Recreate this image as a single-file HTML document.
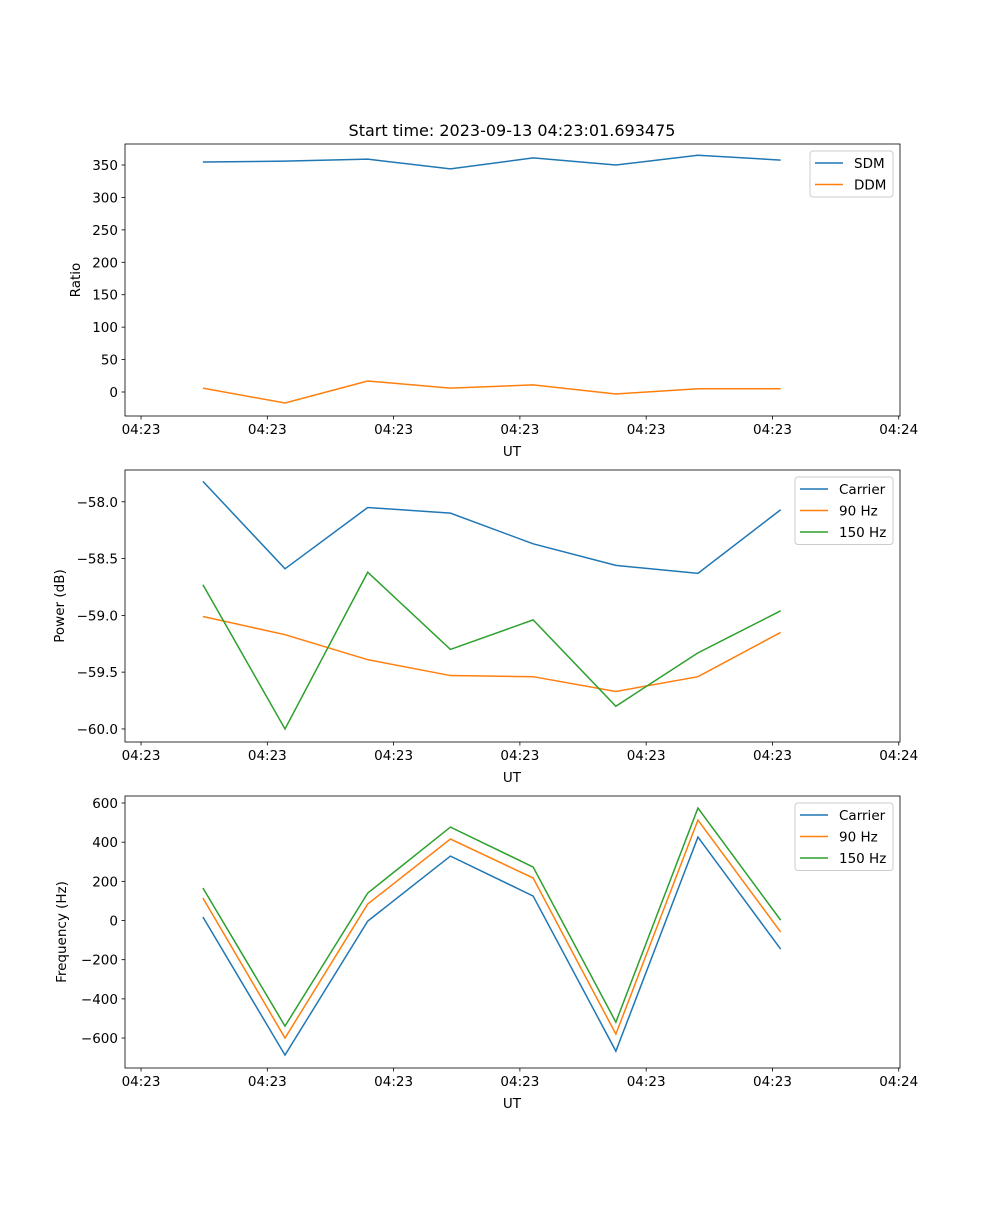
<!DOCTYPE html>
<html><head><meta charset="utf-8"><style>
body{margin:0;background:#fff}
svg text{font-family:"DejaVu Sans","Liberation Sans",sans-serif;fill:#000}
</style></head><body>
<svg id="fig" width="1000" height="1200" xmlns="http://www.w3.org/2000/svg">
<rect width="1000" height="1200" fill="#fff"/>
<text x="512" y="136" font-size="16" text-anchor="middle">Start time: 2023-09-13 04:23:01.693475</text>
</svg>
<script>
const xTimes=[4.9,11.4,17.95,24.5,31.05,37.6,44.1,50.65];
const xTicks=[0,10,20,30,40,50,60];
const xTickLabels=["04:23","04:23","04:23","04:23","04:23","04:23","04:24"];
const sdm=[354.6,356,359,344,361,350,365,357.6];
const ddm=[6,-17,17,6,11,-3,5,5];
const pCarrier=[-57.82,-58.59,-58.05,-58.10,-58.37,-58.56,-58.63,-58.07];
const p90=[-59.01,-59.17,-59.39,-59.53,-59.54,-59.67,-59.54,-59.15];
const p150=[-58.73,-60.0,-58.62,-59.30,-59.04,-59.80,-59.33,-58.96];
const fCarrier=[18,-687,-3,329,125,-667,426,-146];
const f90=[115,-600,84,416,217,-580,513,-59];
const f150=[166,-539,140,477,273,-519,574,2];
const ticks1=[0,50,100,150,200,250,300,350];
const ticks2=[-58.0,-58.5,-59.0,-59.5,-60.0];
const ticks3=[-600,-400,-200,0,200,400,600];
const C=["#1f77b4","#ff7f0e","#2ca02c"];
const svg=document.getElementById('fig');
const NS="http://www.w3.org/2000/svg";
function mk(t,a,p){const e=document.createElementNS(NS,t);for(const k in a)e.setAttribute(k,a[k]);(p||svg).appendChild(e);return e;}
const L=125,R=900,xmin=-1.27,xmax=60.1;
const xs=v=>L+(v-xmin)/(xmax-xmin)*(R-L);
function panel(id,top,bot,ymin,ymax,yt,fmt,ylabel,ylx,series,names,lg){
  const g=mk('g',{});
  
  
  const ys=v=>bot-(v-ymin)/(ymax-ymin)*(bot-top);
  series.forEach((s,i)=>{
    const p=mk('polyline',{points:s.map((v,j)=>xs(xTimes[j])+','+ys(v)).join(' '),fill:'none',stroke:C[i],'stroke-width':1.5},g);
    
    
  });
  mk('rect',{x:L,y:top,width:R-L,height:bot-top,fill:'none',stroke:'#000','stroke-width':0.8},g);
  xTicks.forEach((t,i)=>{const x=xs(t);mk('line',{x1:x,x2:x,y1:bot,y2:bot+3.5,stroke:'#000','stroke-width':0.8},g);
    const tx=mk('text',{x:x,y:bot+18,'font-size':13.5,'text-anchor':'middle'},g);tx.textContent=xTickLabels[i];
    });
  yt.forEach(t=>{const y=ys(t);mk('line',{x1:L,x2:L-3.5,y1:y,y2:y,stroke:'#000','stroke-width':0.8},g);
    const tx=mk('text',{x:L-7,y:y+5,'font-size':13.5,'text-anchor':'end'},g);tx.textContent=fmt(t);
    });
  const xl=mk('text',{x:512,y:bot+40,'font-size':13.5,'text-anchor':'middle'},g);xl.textContent='UT';
  
  const yl=mk('text',{x:ylx,y:(top+bot)/2,'font-size':13.5,'text-anchor':'middle',transform:`rotate(-90 ${ylx} ${(top+bot)/2})`},g);yl.textContent=ylabel;
  
  const lgd=mk('g',{},g);
  
  mk('rect',{x:lg,y:top+7,width:893-lg,height:names.length*21.5+3,rx:3,fill:'#fff',stroke:'#ccc','stroke-width':1},lgd);
  names.forEach((n,i)=>{const y=top+19+i*21.5;
    mk('line',{x1:lg+5,x2:lg+33,y1:y,y2:y,stroke:C[i],'stroke-width':1.5},lgd);
    const tx=mk('text',{x:lg+44,y:y+5,'font-size':13.5},lgd);tx.textContent=n;
    });
}
const m=v=>String(v).replace('-','\u2212');
panel('ratio-panel',144,416,-37,382.4,ticks1,v=>m(v),'Ratio',80,[sdm,ddm],['SDM','DDM'],810);
panel('power-panel',470,742,-60.115,-57.72,ticks2,v=>m(v.toFixed(1)),'Power (dB)',64,[pCarrier,p90,p150],['Carrier','90 Hz','150 Hz'],795);
panel('frequency-panel',796,1068,-753,635.7,ticks3,v=>m(v),'Frequency (Hz)',66,[fCarrier,f90,f150],['Carrier','90 Hz','150 Hz'],795);
</script>
</body></html>
